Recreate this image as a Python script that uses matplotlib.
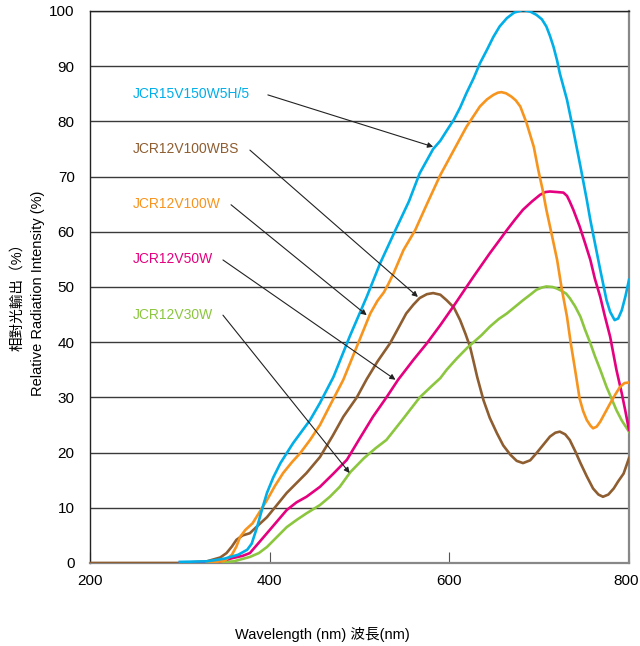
import numpy as np
import matplotlib
matplotlib.use('Agg')
import matplotlib.pyplot as plt
from matplotlib.transforms import ScaledTranslation

plt.rcParams['font.family'] = ['Liberation Sans', 'Noto Sans CJK TC']

# wavelength (nm) / relative intensity (%)
wl_blue = [300, 330, 350, 365, 375, 380, 386, 392, 397, 404, 412, 426, 445, 456, 471, 489,
           508, 523, 540, 555, 567, 582, 590, 597, 605, 612, 619, 627, 634, 642, 649, 656,
           664, 672, 682, 690, 697, 703, 708, 712, 716, 720, 723, 731, 738, 746, 753, 757,
           768, 775, 779, 784, 788, 792, 796, 800]
val_blue = [0.2, 0.3, 0.8, 1.5, 2.4, 3.5, 6.5, 10, 12.7, 15.5, 18.1, 21.7, 25.9, 29, 33.7, 41,
            48.2, 54.3, 60.3, 65.5, 70.6, 75, 76.5, 78.3, 80.3, 82.5, 85.1, 87.8, 90.5, 93, 95.3, 97.2,
            98.7, 99.7, 100.2, 99.9, 99.3, 98.5, 97.2, 95.5, 93.5, 91, 88.7, 83.9, 78.4, 71.8, 65.8, 62.1,
            53.1, 47.6, 45.5, 44, 44.3, 45.8, 48.3, 51.3]

wl_orange = [330, 350, 358, 363, 367, 373, 381, 389, 397, 406, 415, 425, 434, 445, 456, 467,
             482, 497, 512, 520, 527, 532, 538, 549, 562, 575, 590, 605, 619, 634, 642, 649,
             654, 658, 663, 669, 674, 679, 686, 694, 699, 704, 708, 714, 720, 725, 731, 735,
             740, 745, 749, 753, 757, 760, 764, 768, 773, 779, 785, 790, 795, 800]
val_orange = [0, 0.4, 1.5, 3, 4.7, 6, 7.2, 9.3, 11.4, 14, 16.3, 18.3, 19.9, 22.3, 25, 28.5,
              33.2, 39.2, 45.2, 47.5, 49, 50.5, 52.5, 56.7, 60.3, 65, 70.3, 74.8, 79, 82.7, 84, 84.8,
              85.2, 85.3, 85.1, 84.5, 83.8, 82.7, 79.7, 75.4, 71.2, 67.5, 64, 59.5, 54.9, 49.8, 44.6, 40,
              35, 29.8, 27.5, 25.9, 24.9, 24.4, 24.7, 25.6, 27.1, 28.9, 30.6, 31.9, 32.6, 32.7]

wl_brown = [200, 300, 330, 345, 352, 358, 363, 370, 378, 387, 397, 408, 419, 430, 441, 456,
            470, 482, 497, 508, 520, 534, 543, 552, 560, 567, 575, 582, 590, 597, 605, 612,
            618, 623, 627, 631, 638, 645, 653, 660, 668, 675, 682, 690, 697, 705, 712, 718,
            723, 729, 734, 740, 746, 753, 760, 766, 771, 777, 783, 788, 794, 800]
val_brown = [0, 0, 0.3, 1, 1.8, 3, 4.2, 5, 5.4, 6.8, 8.3, 10.5, 12.7, 14.5, 16.3, 19.2,
             23, 26.5, 30, 33.3, 36.5, 39.8, 42.5, 45.2, 46.8, 48, 48.7, 48.9, 48.6, 47.6, 46.3, 44,
             41.5, 39.2, 36.5, 33.7, 29.5, 26.3, 23.5, 21.3, 19.6, 18.5, 18.1, 18.6, 19.9, 21.5, 22.9, 23.6,
             23.8, 23.3, 22.3, 20.3, 18.1, 15.7, 13.5, 12.4, 12, 12.4, 13.5, 14.8, 16.2, 19]

wl_magenta = [300, 340, 359, 370, 378, 387, 397, 408, 419, 430, 441, 456, 471, 486, 500, 515,
              530, 543, 560, 575, 590, 605, 617, 627, 636, 645, 655, 664, 673, 682, 692, 701,
              707, 712, 720, 727, 731, 734, 738, 745, 751, 757, 762, 768, 773, 779, 786, 792,
              796, 800]
val_magenta = [0, 0.1, 0.9, 1.3, 1.8, 3.5, 5.4, 7.5, 9.6, 11, 12, 13.8, 16.2, 18.7, 22.5, 26.5,
               30, 33.2, 36.8, 39.8, 43.1, 46.6, 49.5, 51.9, 54, 56.1, 58.3, 60.3, 62.2, 64, 65.5, 66.7,
               67.2, 67.3, 67.2, 67.1, 66.5, 65.5, 64, 61, 58, 54.9, 51.5, 48.2, 44.8, 41, 35, 30.7,
               27.5, 24.1]

wl_green = [330, 360, 378, 388, 397, 408, 419, 430, 441, 456, 467, 478, 490, 505, 518, 530,
            548, 567, 580, 590, 597, 608, 620, 627, 636, 645, 655, 664, 673, 682, 690, 697,
            703, 708, 715, 720, 725, 730, 734, 740, 746, 751, 757, 762, 768, 775, 780, 786,
            792, 800]
val_green = [0, 0.3, 1.1, 1.8, 2.9, 4.7, 6.5, 7.8, 9, 10.5, 12, 13.8, 16.5, 19, 20.8, 22.3,
             26, 30, 32, 33.5, 35, 37, 39, 40, 41.3, 42.8, 44.2, 45.2, 46.4, 47.6, 48.6, 49.5,
             49.9, 50.1, 50, 49.7, 49.3, 48.8, 48, 46.5, 44.6, 42.3, 39.8, 37.5, 35, 31.9, 30, 27.7,
             25.8, 23.8]

names = ['JCR15V150W5H/5', 'JCR12V100WBS', 'JCR12V100W', 'JCR12V50W', 'JCR12V30W']
colors = ['#00aee8', '#8e5d30', '#f7941d', '#e5007f', '#8cc63f']

fig = plt.figure(figsize=(6.4, 6.46), dpi=100)
ax = fig.add_axes([90 / 640, 1 - 563 / 646, 539 / 640, 552 / 646])

ax.plot(wl_brown, val_brown, color=colors[1], lw=1.9, zorder=3)
ax.plot(wl_green, val_green, color=colors[4], lw=1.9, zorder=3)
ax.plot(wl_magenta, val_magenta, color=colors[3], lw=1.9, zorder=3)
ax.plot(wl_orange, val_orange, color=colors[2], lw=1.9, zorder=3)
ax.plot(wl_blue, val_blue, color=colors[0], lw=1.9, zorder=3)

ax.set_xlim(200, 800)
ax.set_ylim(0, 100)
ax.set_xticks([200, 400, 600, 800])
ax.set_yticks(np.arange(0, 101, 10))
ax.tick_params(axis='x', direction='in', length=8, width=0.8, color='#555', pad=8, labelsize=11)
ax.tick_params(axis='y', length=0, pad=11, labelsize=11)
ax.yaxis.grid(True, color='#3a3a3a', lw=1)
ax.set_axisbelow(True)

# keep the "800" inside the canvas
last = ax.get_xticklabels()[-1]
last.set_transform(last.get_transform() + ScaledTranslation(-3 / 100, 0, fig.dpi_scale_trans))

for s in ['top', 'left']:
    ax.spines[s].set_color('#222')
    ax.spines[s].set_linewidth(1)
for s in ['right', 'bottom']:
    ax.spines[s].set_color('#888')
    ax.spines[s].set_linewidth(1.6)

# labels and arrows
label_y = [85, 75, 65, 55, 45]
arrow_start = [(398, 84.8), (378, 74.8), (357, 64.9), (348, 54.9), (348, 44.9)]
arrow_end = [(582, 75.4), (565, 48.2), (508, 44.9), (540, 33.2), (489, 16.3)]
for name, c, ly, st, en in zip(names, colors, label_y, arrow_start, arrow_end):
    ax.text(248, ly, name, color=c, fontsize=10, va='center', ha='left')
    ax.annotate('', xy=en, xytext=st,
                arrowprops=dict(arrowstyle='-|>', lw=0.8, color='#222',
                                mutation_scale=8, shrinkA=0, shrinkB=0), zorder=4)

fig.text(17 / 640, 1 - 293 / 646, '相對光輸出（%）', rotation=90, ha='center', va='center', fontsize=10.5)
fig.text(38 / 640, 1 - 293 / 646, 'Relative Radiation Intensity (%)', rotation=90,
         ha='center', va='center', fontsize=10.5)
fig.text(322 / 640, 1 - 635 / 646, 'Wavelength (nm) 波長(nm)', ha='center', va='center', fontsize=10.5)

plt.savefig('out.png', dpi=100)
